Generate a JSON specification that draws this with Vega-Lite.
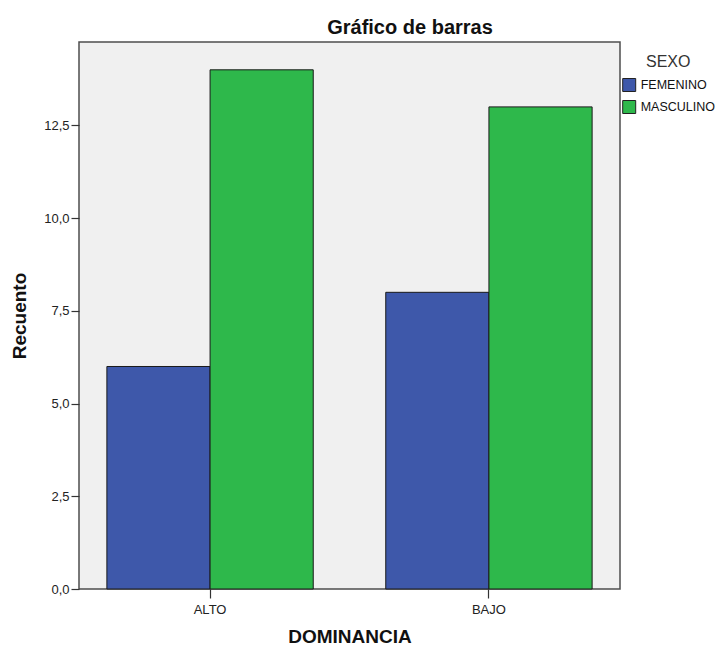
{
  "$schema": "https://vega.github.io/schema/vega-lite/v6.json",
  "width": 541,
  "height": 547,
  "autosize": {"type": "none"},
  "padding": {"left": 79, "top": 42, "right": 100, "bottom": 57},
  "background": "#ffffff",
  "title": {
    "text": "Gráfico de barras",
    "anchor": "middle",
    "frame": "group",
    "dx": 60.5,
    "dy": 22,
    "offset": 10,
    "baseline": "alphabetic",
    "font": "Liberation Sans",
    "fontSize": 20,
    "fontWeight": "bold",
    "color": "#111111"
  },
  "data": {
    "values": [
      {"DOMINANCIA": "ALTO", "SEXO": "FEMENINO", "Recuento": 6},
      {"DOMINANCIA": "ALTO", "SEXO": "MASCULINO", "Recuento": 14},
      {"DOMINANCIA": "BAJO", "SEXO": "FEMENINO", "Recuento": 8},
      {"DOMINANCIA": "BAJO", "SEXO": "MASCULINO", "Recuento": 13}
    ]
  },
  "mark": {"type": "bar", "stroke": "#1a1a1a", "strokeWidth": 1},
  "encoding": {
    "x": {
      "field": "DOMINANCIA",
      "type": "nominal",
      "scale": {"paddingInner": 0.26, "paddingOuter": 0.1},
      "axis": {
        "title": "DOMINANCIA",
        "labelAngle": 0,
        "labelFont": "Liberation Sans",
        "labelFontSize": 13,
        "labelColor": "#222222",
        "labelPadding": 5,
        "tickSize": 9,
        "tickColor": "#333333",
        "tickWidth": 1.2,
        "domain": false,
        "titleFont": "Liberation Sans",
        "titleFontSize": 19,
        "titleFontWeight": "bold",
        "titleColor": "#111111",
        "titleX": 270.5,
        "titleY": 53,
        "titleBaseline": "alphabetic",
        "titleAlign": "center"
      }
    },
    "xOffset": {
      "field": "SEXO",
      "type": "nominal",
      "scale": {"paddingInner": 0, "paddingOuter": 0}
    },
    "y": {
      "field": "Recuento",
      "type": "quantitative",
      "scale": {"domain": [0, 14.75], "nice": false, "zero": true},
      "axis": {
        "title": "Recuento",
        "values": [0, 2.5, 5, 7.5, 10, 12.5],
        "labelExpr": "replace(format(datum.value, '.1f'), '.', ',')",
        "grid": false,
        "domain": false,
        "tickSize": 8,
        "tickColor": "#333333",
        "tickWidth": 1.2,
        "labelPadding": 2,
        "labelFont": "Liberation Sans",
        "labelFontSize": 13,
        "labelColor": "#222222",
        "titleFont": "Liberation Sans",
        "titleFontSize": 19,
        "titleFontWeight": "bold",
        "titleColor": "#111111",
        "titleX": -60,
        "titleY": 273.5,
        "titleAngle": -90,
        "titleAlign": "center",
        "titleBaseline": "middle"
      }
    },
    "color": {
      "field": "SEXO",
      "type": "nominal",
      "scale": {"domain": ["FEMENINO", "MASCULINO"], "range": ["#3E58AA", "#2EB84B"]},
      "legend": {
        "orient": "none",
        "legendX": 543.2,
        "legendY": 12,
        "padding": 0,
        "title": "SEXO",
        "titleFont": "Liberation Sans",
        "titleFontSize": 16,
        "titleFontWeight": "normal",
        "titleColor": "#333333",
        "titleAnchor": "middle",
        "titlePadding": 8,
        "symbolType": "square",
        "symbolSize": 169,
        "symbolStrokeColor": "#222222",
        "symbolStrokeWidth": 1,
        "symbolOpacity": 1,
        "labelFont": "Liberation Sans",
        "labelFontSize": 12.5,
        "labelColor": "#111111",
        "labelOffset": 4.5,
        "rowPadding": 4
      }
    }
  },
  "config": {
    "view": {"fill": "#F0F0F0", "stroke": "#4D4D4D", "strokeWidth": 1.5}
  }
}
